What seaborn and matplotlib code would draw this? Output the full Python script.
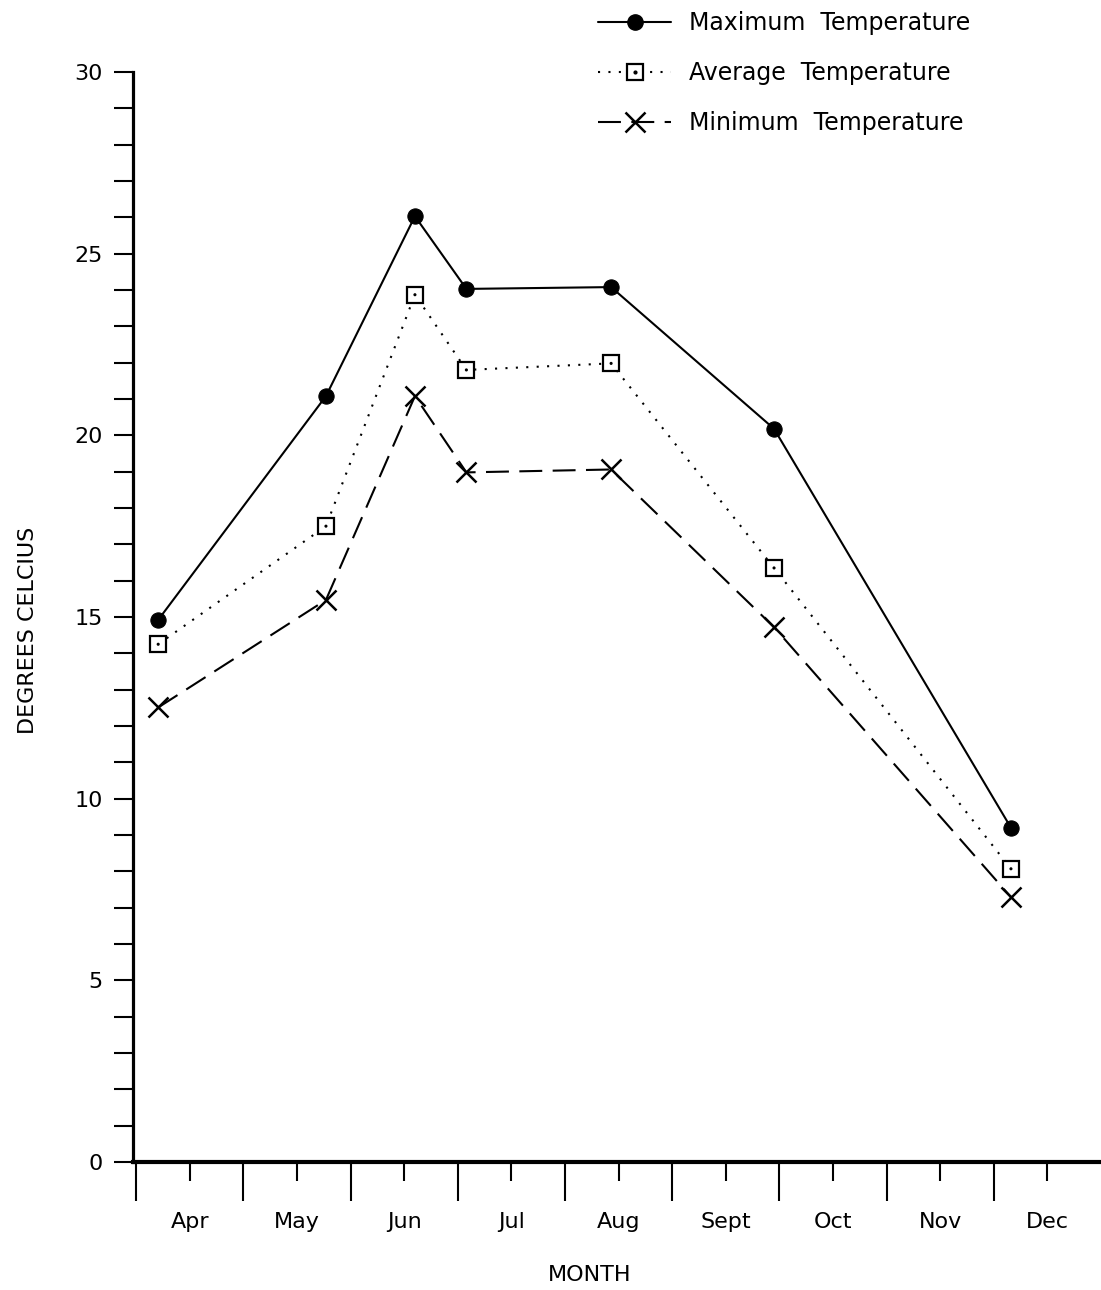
import matplotlib
matplotlib.use('Agg')
import matplotlib.pyplot as plt
import seaborn as sns
import numpy as np
from matplotlib.lines import Line2D
from matplotlib.legend_handler import HandlerTuple

# month positions (0 = start of Apr, 1 = start of May, ...)
months = ['Apr', 'May', 'Jun', 'Jul', 'Aug', 'Sept', 'Oct', 'Nov', 'Dec']
sample_pos = [0.205, 1.77, 2.60, 3.08, 4.43, 5.95, 8.16]

max_temp = [14.92, 21.08, 26.03, 24.03, 24.08, 20.18, 9.2]
avg_temp = [14.25, 17.5, 23.87, 21.8, 21.98, 16.35, 8.07]
min_temp = [12.51, 15.47, 21.08, 18.98, 19.06, 14.72, 7.29]

sns.set_style('ticks')
plt.rcParams['font.family'] = ['DejaVu Sans']
plt.rcParams['text.color'] = 'black'
plt.rcParams['xtick.color'] = 'black'
plt.rcParams['ytick.color'] = 'black'
plt.rcParams['axes.edgecolor'] = 'black'

fig = plt.figure(figsize=(11.01, 12.9), dpi=100)
ax = fig.add_axes([133/1101, 1-1162/1290, 1-133/1101, (1162-72)/1290])

lw = 1.5
dots = (0, (1, 4))
dashes = (0, (11, 5))
sns.lineplot(x=sample_pos, y=max_temp, ax=ax, color='black', lw=lw,
             marker='o', markersize=11, markerfacecolor='black', markeredgecolor='black')
sns.lineplot(x=sample_pos, y=avg_temp, ax=ax, color='black', lw=lw, linestyle=dots,
             marker='s', markersize=12, markerfacecolor='white', markeredgecolor='black',
             markeredgewidth=1.6)
sns.scatterplot(x=sample_pos, y=avg_temp, ax=ax, color='black', marker='o', s=5,
                edgecolor='none', zorder=5)
sns.lineplot(x=sample_pos, y=min_temp, ax=ax, color='black', lw=lw, linestyle=dashes,
             marker='x', markersize=14, markeredgewidth=1.8, markeredgecolor='black')

ax.set_xlim(-0.03, 9.0)
ax.set_ylim(0, 30)

sns.despine(ax=ax)
ax.spines['left'].set_linewidth(2.3)
ax.spines['bottom'].set_linewidth(3)

# y ticks: every unit, labels every 5
ax.set_yticks(np.arange(0, 31, 5))
ax.set_yticks(np.arange(0, 31, 1), minor=True)
ax.tick_params(axis='y', which='both', length=14, width=1.5, direction='out', pad=8,
               labelsize=16)

# x ticks: long at month boundaries, short with labels mid-month
ax.set_xticks(np.arange(0, 9, 1))
ax.set_xticklabels([])
ax.set_xticks(np.arange(0.5, 9, 1), minor=True)
ax.set_xticklabels(months, minor=True)
ax.tick_params(axis='x', which='major', length=28, width=1.5, direction='out')
ax.tick_params(axis='x', which='minor', length=14, width=1.5, direction='out', pad=22,
               labelsize=16)

ax.set_xlabel('')
ax.set_ylabel('')
fig.text(590/1101, 1-1275/1290, 'MONTH', ha='center', va='center', fontsize=16)
fig.text(28/1101, 1-630/1290, 'DEGREES CELCIUS', ha='center', va='center',
         rotation=90, fontsize=16)

h_max = Line2D([], [], color='black', lw=lw, marker='o', markersize=11)
h_avg = Line2D([], [], color='black', lw=lw, linestyle=dots, marker='s', markersize=12,
               markerfacecolor='white', markeredgewidth=1.6)
h_dot = Line2D([], [], color='black', lw=0, marker='o', markersize=2)
h_min = Line2D([], [], color='black', lw=lw, linestyle=dashes, marker='x',
               markersize=14, markeredgewidth=1.8)
fig.legend([h_max, (h_avg, h_dot), h_min],
           ['Maximum  Temperature', 'Average  Temperature', 'Minimum  Temperature'],
           handler_map={tuple: HandlerTuple(ndivide=1, pad=0)},
           loc='upper left', bbox_to_anchor=(598/1101, 1-11/1290), frameon=False,
           fontsize=17, handlelength=3.1, labelspacing=1.1, handletextpad=0.75,
           borderaxespad=0, borderpad=0)

fig.savefig('out.png', dpi=100, facecolor='white')
